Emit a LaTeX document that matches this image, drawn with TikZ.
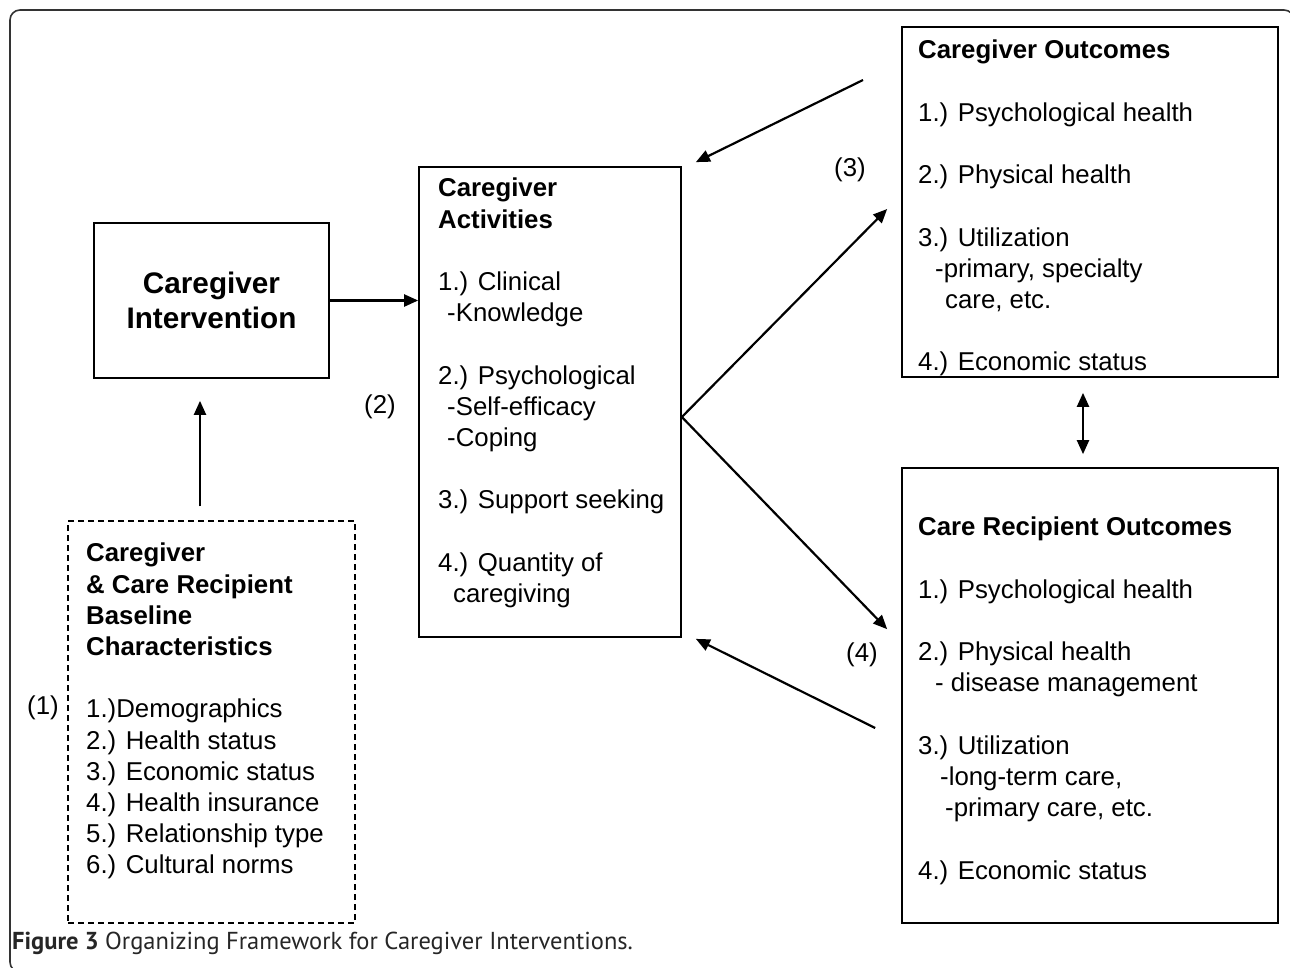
\documentclass[tikz,border=0pt]{standalone}
\usepackage{fontspec}
\setmainfont{Liberation Sans}
\newfontfamily\capfont{PT Sans}
\usetikzlibrary{arrows.meta,positioning}
\newcommand{\ink}{black}
\tikzset{
  box/.style={draw=\ink, line width=1.7pt, inner sep=0pt},
  dashbox/.style={draw=\ink, line width=1.4pt, dash pattern=on 6pt off 4pt, inner sep=0pt},
  txt/.style={font=\fontsize{25.8}{31.2}\selectfont, align=left, inner sep=0pt, anchor=north west},
  lbl/.style={font=\fontsize{25.8}{31.2}\selectfont, inner sep=0pt},
  arr/.style={draw=\ink, line width=2.2pt, -{Triangle[length=14pt,width=12pt]}},
  frame/.style={draw=black!80, line width=1.6pt, rounded corners=10pt},
}
\begin{document}
\begin{tikzpicture}[x=1pt,y=-1pt]
    \useasboundingbox (0,0) rectangle (1290,967);
    \draw[frame] (10,10) rectangle (1294,972);
    % boxes
    \node[box, minimum width=235pt, minimum height=155pt, align=center,
          font=\bfseries\fontsize{29.7}{35}\selectfont] (interv) at (211.5,300.5) {Caregiver\\Intervention};
    \node[box, minimum width=262pt, minimum height=470pt] (act) at (550,402) {};
    \node[box, minimum width=376pt, minimum height=350pt] (cgo) at (1090,202) {};
    \node[box, minimum width=376pt, minimum height=455pt] (cro) at (1090,695.5) {};
    \node[dashbox, minimum width=287pt, minimum height=402pt] (base) at (211.5,722) {};
    % box texts
    \node[txt] (acttxt) at (438,178) {\textbf{Caregiver}\\ \textbf{Activities}\\[31.2pt]
        1.) Clinical\\ \hspace*{9pt}-Knowledge\\[31.2pt]
        2.) Psychological\\ \hspace*{9pt}-Self-efficacy\\ \hspace*{9pt}-Coping\\[31.2pt]
        3.) Support seeking\\[31.2pt]
        4.) Quantity of\\ \hspace*{15pt}caregiving};
    \node[txt] (cgotxt) at (918,40) {\textbf{Caregiver Outcomes}\\[31.2pt]
        1.) Psychological health\\[31.2pt]
        2.) Physical health\\[31.2pt]
        3.) Utilization\\ \hspace*{17pt}-primary, specialty\\ \hspace*{27pt}care, etc.\\[31.2pt]
        4.) Economic status};
    \node[txt] (crotxt) at (918,517) {\textbf{Care Recipient Outcomes}\\[31.2pt]
        1.) Psychological health\\[31.2pt]
        2.) Physical health\\ \hspace*{17pt}- disease management\\[31.2pt]
        3.) Utilization\\ \hspace*{22pt}-long-term care,\\ \hspace*{27pt}-primary care, etc.\\[31.2pt]
        4.) Economic status};
    \node[txt] (basetxt) at (86,543) {\textbf{Caregiver}\\ \textbf{\& Care Recipient}\\
        \textbf{Baseline}\\ \textbf{Characteristics}\\[31.2pt]
        1.)Demographics\\ 2.) Health status\\ 3.) Economic status\\
        4.) Health insurance\\ 5.) Relationship type\\ 6.) Cultural norms};
    % path labels
    \node[lbl] (n1) at (43,708) {(1)};
    \node[lbl] (n2) at (380,407) {(2)};
    \node[lbl] (n3) at (850,170) {(3)};
    \node[lbl] (n4) at (862,655) {(4)};
    % connectors
    \coordinate (cgofrom) at (863,80);
    \draw[arr] ([xshift=-11.5pt,yshift=14pt]base.north) -- ([xshift=-11.5pt,yshift=-22pt]interv.south);
    \draw[arr] (interv.east) -- (interv.east -| act.west);
    \draw[arr] (cgofrom) -- ([xshift=14pt,yshift=4pt]act.north east);
    \draw[arr] ([yshift=-15pt]act.east) -- ([xshift=-14pt,yshift=-7pt]cgo.west);
    \draw[arr] ([yshift=-15pt]act.east) -- ([xshift=-14pt,yshift=-162pt]cro.north west);
    \draw[arr] ([xshift=-26pt,yshift=-32.5pt]cro.west) -- ([xshift=14pt,yshift=-1pt]act.south east);
    \draw[arr, {Triangle[length=14pt,width=12pt]}-{Triangle[length=14pt,width=12pt]}]
        ([xshift=-7pt,yshift=-15pt]cgo.south) -- ([xshift=-7pt,yshift=13pt]cro.north);
    % caption
    \node[anchor=base west, inner sep=0pt, text=black!85,
          font=\capfont\fontsize{24.5}{28}\selectfont] (cap) at (12,949)
        {\textbf{Figure 3} Organizing Framework for Caregiver Interventions.};
\end{tikzpicture}
\end{document}
